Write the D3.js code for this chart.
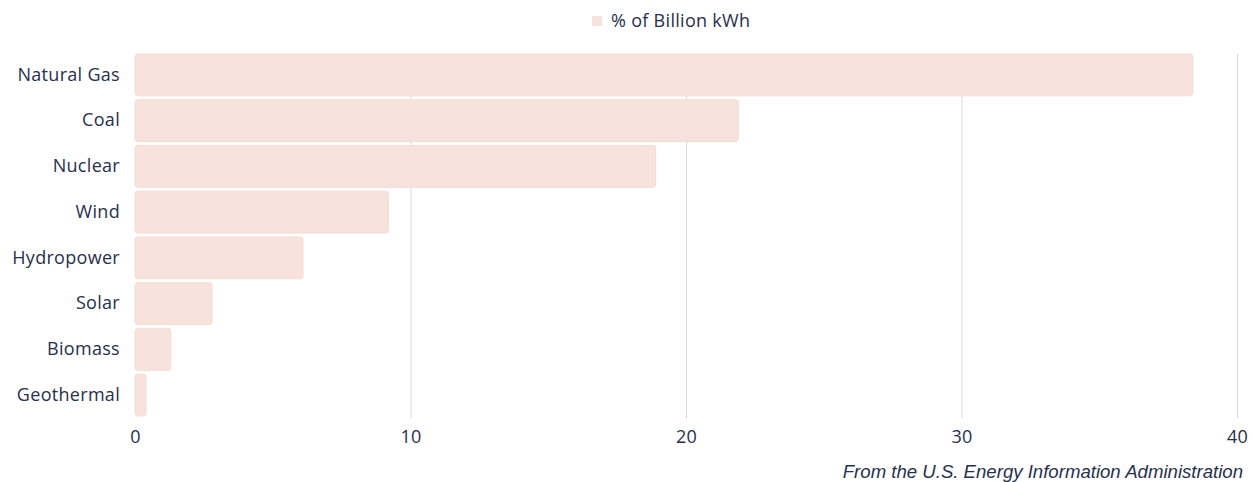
<!DOCTYPE html>
<html>
<head>
<meta charset="utf-8">
<script src="https://cdn.jsdelivr.net/npm/d3@7"></script>
<style>
  body { margin: 0; background: #fff; }
  text { font-family: "Open Sans", Lato, sans-serif; fill: #27304d; }
</style>
</head>
<body>
<div id="chart"></div>
<script>
// data
var sources = ["Natural Gas", "Coal", "Nuclear", "Wind", "Hydropower", "Solar", "Biomass", "Geothermal"];
var shares = [38.4, 21.9, 18.9, 9.2, 6.1, 2.8, 1.3, 0.4];
var xTicks = [0, 10, 20, 30, 40];
var seriesName = "% of Billion kWh";
var sourceNote = "From the U.S. Energy Information Administration";

var svgWidth = 1255;
var svgHeight = 482;

var chartMargin = {top: 54, right: 18, left: 135, bottom: 64};

var chartWidth = svgWidth - chartMargin.left - chartMargin.right;
var chartHeight = svgHeight - chartMargin.top - chartMargin.bottom;

var svg = d3.select("#chart")
    .append("svg")
    .attr("width", svgWidth)
    .attr("height", svgHeight);

var chartGroup = svg.append("g")
    .attr("transform", `translate(${chartMargin.left}, ${chartMargin.top})`);

var rows = sources.map((s, i) => ({source: s, value: shares[i]}));

// scales
var xScale = d3.scaleLinear()
    .domain([0, 40])
    .range([0, chartWidth]);

var yScale = d3.scaleBand()
    .domain(sources)
    .range([0, chartHeight - 2])
    .paddingInner(0.085)
    .paddingOuter(0);

// grid lines
chartGroup.append("g")
    .selectAll("line")
    .data(xTicks.slice(1))
    .enter()
    .append("line")
    .attr("x1", d => xScale(d) + 0.5)
    .attr("x2", d => xScale(d) + 0.5)
    .attr("y1", 0)
    .attr("y2", chartHeight)
    .attr("stroke", "#d9d9dc")
    .attr("stroke-width", 1);

// bars
chartGroup.selectAll("rect.bar")
    .data(rows)
    .enter()
    .append("rect")
    .attr("class", "bar")
    .attr("x", xScale(0))
    .attr("y", d => yScale(d.source))
    .attr("width", d => xScale(d.value) - xScale(0))
    .attr("height", yScale.bandwidth())
    .attr("rx", 3)
    .attr("fill", "#f7e2dc")
    .attr("stroke", "#f4dcd5")
    .attr("stroke-width", 1);

// axes
var bottomAxis = d3.axisBottom(xScale).tickValues(xTicks).tickSize(0).tickPadding(12);
var leftAxis = d3.axisLeft(yScale).tickSize(0).tickPadding(15);

var xAxisG = chartGroup.append("g")
    .attr("transform", `translate(0, ${chartHeight})`)
    .call(bottomAxis);
xAxisG.select(".domain").remove();
xAxisG.selectAll("text")
    .style("font-size", "18px")
    .style("letter-spacing", "0.3px")
    .attr("fill", "#27304d");

var yAxisG = chartGroup.append("g")
    .call(leftAxis);
yAxisG.select(".domain").remove();
yAxisG.selectAll("text")
    .style("font-size", "18px")
    .style("letter-spacing", "0.3px")
    .attr("fill", "#27304d");

// legend
var legend = svg.append("g")
    .attr("transform", "translate(592, 16)");
legend.append("rect")
    .attr("width", 10)
    .attr("height", 10)
    .attr("fill", "#f7e2dc");
legend.append("text")
    .attr("x", 19)
    .attr("y", 5)
    .attr("dy", "0.35em")
    .style("font-size", "18px")
    .style("letter-spacing", "0.3px")
    .text(seriesName);

// footer note
svg.append("text")
    .attr("x", 1243)
    .attr("y", 478)
    .attr("text-anchor", "end")
    .style("font-family", "'Liberation Sans', Arial, sans-serif")
    .style("font-style", "italic")
    .style("font-size", "18.6px")
    .text(sourceNote);
</script>
</body>
</html>
